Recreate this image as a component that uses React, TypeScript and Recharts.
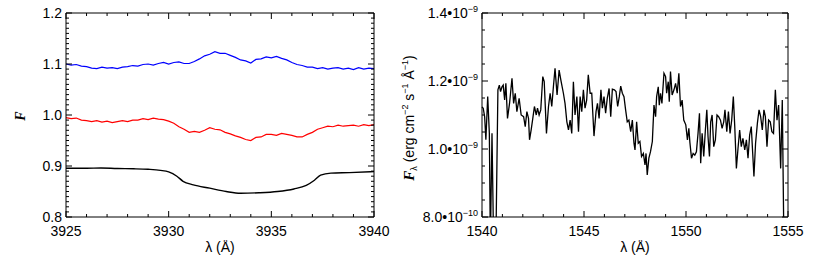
import React from 'react';
import { LineChart, Line, XAxis, YAxis } from 'recharts';

const SANS = '"Liberation Sans", Arial, Helvetica, sans-serif';
const SERIF = '"Liberation Serif", "Times New Roman", serif';

// ---- left panel: normalised flux around 3925-3940 A ----
const kWave = [
  3925, 3925.25, 3925.5, 3925.75, 3926, 3926.25, 3926.5, 3926.75, 3927, 3927.25, 3927.5, 3927.75,
  3928, 3928.25, 3928.5, 3928.75, 3929, 3929.25, 3929.5, 3929.75, 3930, 3930.25, 3930.5, 3930.75,
  3931, 3931.25, 3931.5, 3931.75, 3932, 3932.25, 3932.5, 3932.75, 3933, 3933.25, 3933.5, 3933.75,
  3934, 3934.25, 3934.5, 3934.75, 3935, 3935.25, 3935.5, 3935.75, 3936, 3936.25, 3936.5, 3936.75,
  3937, 3937.25, 3937.5, 3937.75, 3938, 3938.25, 3938.5, 3938.75, 3939, 3939.25, 3939.5, 3939.75, 3940,
];
const kBlue = [
  1.100, 1.098, 1.099, 1.096, 1.095, 1.092, 1.091, 1.094, 1.092, 1.093, 1.091, 1.094,
  1.095, 1.097, 1.096, 1.099, 1.100, 1.098, 1.101, 1.103, 1.100, 1.103, 1.104, 1.101,
  1.101, 1.105, 1.110, 1.116, 1.119, 1.124, 1.121, 1.121, 1.117, 1.113, 1.108, 1.106,
  1.102, 1.109, 1.110, 1.114, 1.112, 1.115, 1.111, 1.108, 1.103, 1.099, 1.097, 1.094,
  1.094, 1.091, 1.093, 1.090, 1.092, 1.093, 1.090, 1.092, 1.089, 1.093, 1.090, 1.092, 1.091,
];
const kRed = [
  0.995, 0.993, 0.994, 0.990, 0.989, 0.987, 0.989, 0.986, 0.988, 0.985, 0.987, 0.989,
  0.987, 0.990, 0.990, 0.993, 0.991, 0.994, 0.992, 0.991, 0.988, 0.984, 0.977, 0.972,
  0.966, 0.968, 0.966, 0.970, 0.975, 0.972, 0.971, 0.966, 0.963, 0.959, 0.956, 0.952,
  0.950, 0.956, 0.957, 0.962, 0.962, 0.960, 0.964, 0.962, 0.960, 0.957, 0.957, 0.962,
  0.966, 0.972, 0.975, 0.978, 0.977, 0.980, 0.978, 0.979, 0.980, 0.978, 0.981, 0.979, 0.981,
];
const modelWave = [
  3925, 3926, 3926.7, 3927.5, 3928.3, 3929, 3929.6, 3930, 3930.4, 3930.7, 3931.2, 3932,
  3932.8, 3933.5, 3934.4, 3935.3, 3936.1, 3936.7, 3937.1, 3937.4, 3937.9, 3938.8, 3940,
];
const modelFlux = [
  0.8955, 0.8955, 0.896, 0.895, 0.8945, 0.8935, 0.8915, 0.8885, 0.88, 0.87, 0.863, 0.8565,
  0.85, 0.8465, 0.8475, 0.85, 0.855, 0.862, 0.872, 0.882, 0.886, 0.887, 0.889,
];

const kMajorX = [3925, 3930, 3935, 3940];
const kTicksX = [3925, 3926, 3927, 3928, 3929, 3930, 3931, 3932, 3933, 3934, 3935, 3936, 3937, 3938, 3939, 3940];
const kMajorY = [0.8, 0.9, 1.0, 1.1, 1.2];
const kTicksY = [
  0.8, 0.81, 0.82, 0.83, 0.84, 0.85, 0.86, 0.87, 0.88, 0.89,
  0.9, 0.91, 0.92, 0.93, 0.94, 0.95, 0.96, 0.97, 0.98, 0.99,
  1.0, 1.01, 1.02, 1.03, 1.04, 1.05, 1.06, 1.07, 1.08, 1.09,
  1.1, 1.11, 1.12, 1.13, 1.14, 1.15, 1.16, 1.17, 1.18, 1.19, 1.2,
];
const kYLabels = ['0.8', '0.9', '1.0', '1.1', '1.2'];

// ---- right panel: flux (units of 1e-9 erg/cm2/s/A) around 1540-1555 A ----
const civWave = [
  1540.00, 1540.06, 1540.13, 1540.19, 1540.28, 1540.36, 1540.41, 1540.49, 1540.57, 1540.68,
  1540.78, 1540.85, 1540.91, 1540.98, 1541.04, 1541.11, 1541.17, 1541.25, 1541.35, 1541.47,
  1541.55, 1541.63, 1541.71, 1541.82, 1541.92, 1542.04, 1542.12, 1542.20, 1542.28, 1542.33,
  1542.41, 1542.49, 1542.57, 1542.66, 1542.72, 1542.80, 1542.88, 1542.98, 1543.05, 1543.16,
  1543.26, 1543.34, 1543.42, 1543.50, 1543.58, 1543.68, 1543.78, 1543.88, 1543.99, 1544.07,
  1544.16, 1544.24, 1544.32, 1544.40, 1544.48, 1544.56, 1544.65, 1544.73, 1544.81, 1544.89,
  1544.97, 1545.05, 1545.13, 1545.21, 1545.30, 1545.38, 1545.49, 1545.59, 1545.66, 1545.74,
  1545.83, 1545.90, 1545.98, 1546.06, 1546.14, 1546.23, 1546.31, 1546.39, 1546.49, 1546.57,
  1546.65, 1546.73, 1546.80, 1546.88, 1546.96, 1547.04, 1547.12, 1547.20, 1547.29, 1547.37,
  1547.45, 1547.50, 1547.58, 1547.66, 1547.74, 1547.82, 1547.91, 1547.99, 1548.04, 1548.10,
  1548.18, 1548.26, 1548.35, 1548.43, 1548.51, 1548.56, 1548.64, 1548.69, 1548.75, 1548.82,
  1548.92, 1549.00, 1549.05, 1549.13, 1549.18, 1549.24, 1549.32, 1549.41, 1549.49, 1549.57,
  1549.65, 1549.73, 1549.81, 1549.89, 1549.99, 1550.07, 1550.14, 1550.19, 1550.27, 1550.35,
  1550.43, 1550.51, 1550.59, 1550.66, 1550.72, 1550.79, 1550.87, 1550.95, 1551.02, 1551.08,
  1551.15, 1551.21, 1551.28, 1551.36, 1551.44, 1551.52, 1551.60, 1551.69, 1551.77, 1551.85,
  1551.91, 1552.00, 1552.08, 1552.16, 1552.24, 1552.32, 1552.39, 1552.47, 1552.55, 1552.63,
  1552.71, 1552.79, 1552.88, 1552.96, 1553.04, 1553.12, 1553.20, 1553.27, 1553.33, 1553.41,
  1553.50, 1553.58, 1553.66, 1553.74, 1553.82, 1553.89, 1553.97, 1554.05, 1554.13, 1554.21,
  1554.29, 1554.38, 1554.46, 1554.54, 1554.64, 1554.72, 1554.80, 1555.00,
];
const civFlux = [
  1.124, 1.120, 1.095, 1.027, 1.154, 1.046, 0.72, 1.046, 0.72, 0.72,
  1.174, 1.188, 1.169, 1.183, 1.188, 1.144, 1.193, 1.090, 1.134, 1.208,
  1.134, 1.164, 1.110, 1.149, 1.100, 1.095, 1.066, 1.110, 1.090, 1.027,
  1.056, 1.090, 1.125, 1.100, 1.120, 1.100, 1.115, 1.213, 1.198, 1.046,
  1.125, 1.164, 1.125, 1.183, 1.237, 1.159, 1.232, 1.198, 1.164, 1.134,
  1.080, 1.056, 1.085, 1.046, 1.198, 1.100, 1.154, 1.051, 1.154, 1.110,
  1.174, 1.120, 1.144, 1.218, 1.164, 1.164, 1.038, 1.110, 1.134, 1.090,
  1.174, 1.120, 1.154, 1.105, 1.149, 1.178, 1.095, 1.176, 1.174, 1.169,
  1.125, 1.154, 1.185, 1.164, 1.154, 1.115, 1.080, 1.085, 1.051, 1.085,
  1.017, 0.997, 1.080, 1.017, 1.022, 0.978, 0.987, 0.953, 0.987, 0.924,
  0.973, 0.992, 1.022, 1.129, 1.095, 1.154, 1.183, 1.129, 1.164, 1.134,
  1.223, 1.213, 1.164, 1.198, 1.139, 1.228, 1.159, 1.174, 1.193, 1.164,
  1.223, 1.125, 1.144, 1.085, 1.071, 1.027, 1.061, 1.020, 0.973, 0.987,
  0.982, 0.992, 1.046, 1.105, 0.958, 1.046, 0.978, 1.056, 1.115, 1.036,
  0.978, 1.080, 1.100, 1.007, 1.027, 1.100, 1.095, 1.085, 1.061, 1.080,
  1.115, 1.051, 1.110, 1.046, 1.085, 1.154, 1.066, 0.943, 1.002, 1.056,
  1.007, 1.031, 0.997, 1.027, 0.973, 1.041, 1.066, 0.987, 0.919, 1.017,
  1.076, 1.115, 1.095, 1.056, 1.115, 1.095, 1.007, 1.085, 1.080, 1.051,
  1.046, 1.174, 1.085, 1.129, 0.943, 1.144, 0.72, 0.72,
];

const cMajorX = [1540, 1545, 1550, 1555];
const cTicksX = [1540, 1541, 1542, 1543, 1544, 1545, 1546, 1547, 1548, 1549, 1550, 1551, 1552, 1553, 1554, 1555];
const cMajorY = [0.8, 1.0, 1.2, 1.4];
const cTicksY = [0.8, 0.85, 0.9, 0.95, 1.0, 1.05, 1.1, 1.15, 1.2, 1.25, 1.3, 1.35, 1.4];
const cYMantissa = ['8.0', '1.0', '1.2', '1.4'];
const cYExponent = ['\u221210', '\u22129', '\u22129', '\u22129'];

const zip = (xs: number[], ys: number[]) => xs.map((w, i) => ({ w, f: ys[i] }));
const blueData = zip(kWave, kBlue);
const redData = zip(kWave, kRed);
const modelData = zip(modelWave, modelFlux);
const civData = zip(civWave, civFlux);

const findMajor = (v: number, maj: number[]) => maj.findIndex((m) => Math.abs(m - v) < 1e-6);

// chart sizes / margins (the plot box follows from these)
const K = { w: 400, h: 276, top: 12, right: 25, bottom: 19, left: 16, yw: 50, xh: 40 };
const C = { w: 430, h: 276, top: 12, right: 41, bottom: 19, left: 22, yw: 60, xh: 40 };

// inward IDL-style tick marks on all four sides of a plot box
const TickBox = ({ g, xd, yd, xt, yt, xMaj, yMaj }: any) => {
  const x0 = g.left + g.yw;
  const x1 = g.w - g.right - 1;
  const y0 = g.top + 1;
  const y1 = g.h - g.bottom - g.xh;
  const sx = (v: number) => x0 + ((v - xd[0]) / (xd[1] - xd[0])) * (x1 - x0);
  const sy = (v: number) => y1 - ((v - yd[0]) / (yd[1] - yd[0])) * (y1 - y0);
  const marks: React.ReactNode[] = [];
  xt.forEach((v: number, i: number) => {
    const len = findMajor(v, xMaj) >= 0 ? 6 : 3;
    const x = sx(v);
    marks.push(<line key={`b${i}`} x1={x} x2={x} y1={y1} y2={y1 - len} />);
    marks.push(<line key={`t${i}`} x1={x} x2={x} y1={y0} y2={y0 + len} />);
  });
  yt.forEach((v: number, i: number) => {
    const len = findMajor(v, yMaj) >= 0 ? 6 : 3;
    const y = sy(v);
    marks.push(<line key={`l${i}`} x1={x0} x2={x0 + len} y1={y} y2={y} />);
    marks.push(<line key={`r${i}`} x1={x1} x2={x1 - len} y1={y} y2={y} />);
  });
  return (
    <svg width={g.w} height={g.h} style={{ position: 'absolute', left: 0, top: 0, pointerEvents: 'none' }}>
      <g stroke="#000" strokeWidth={1}>{marks}</g>
    </svg>
  );
};

const xLabel = (maj: number[]) => (props: any) => {
  const i = findMajor(props.payload.value, maj);
  if (i < 0) return <g />;
  return (
    <text x={Number(props.x)} y={Number(props.y) + 19} textAnchor="middle" fontFamily={SANS} fontSize={14} fill="#000">
      {maj[i]}
    </text>
  );
};

const kYLabel = (props: any) => {
  const i = findMajor(props.payload.value, kMajorY);
  if (i < 0) return <g />;
  return (
    <text x={Number(props.x) - 4} y={Number(props.y) + 5} textAnchor="end" fontFamily={SANS} fontSize={14} fill="#000">
      {kYLabels[i]}
    </text>
  );
};

const cYLabel = (props: any) => {
  const i = findMajor(props.payload.value, cMajorY);
  if (i < 0) return <g />;
  return (
    <text x={Number(props.x) - 4} y={Number(props.y) + 5} textAnchor="end" fontFamily={SANS} fontSize={14} fill="#000">
      <tspan>{cYMantissa[i]}{'\u202210'}</tspan>
      <tspan dy={-6} fontSize={9}>{cYExponent[i]}</tspan>
    </text>
  );
};

const box = { stroke: '#000' };

const LeftPanel = () => (
  <LineChart width={K.w} height={K.h} margin={{ top: K.top, right: K.right, bottom: K.bottom, left: K.left }}>
    <XAxis xAxisId="b" type="number" dataKey="w" domain={[3925, 3940]} ticks={kTicksX} interval={0}
      tickSize={0} tickMargin={0} tickLine={false} axisLine={box} height={K.xh} tick={xLabel(kMajorX)} />
    <XAxis xAxisId="t" orientation="top" type="number" dataKey="w" domain={[3925, 3940]}
      tickLine={false} axisLine={box} height={1} tick={false} />
    <YAxis yAxisId="l" type="number" domain={[0.8, 1.2]} ticks={kTicksY} interval={0}
      tickSize={0} tickMargin={0} tickLine={false} axisLine={box} width={K.yw} tick={kYLabel} />
    <YAxis yAxisId="r" orientation="right" type="number" domain={[0.8, 1.2]}
      tickLine={false} axisLine={box} width={1} tick={false} />
    {/* invisible series so the mirrored top/right axes get drawn */}
    <Line xAxisId="t" yAxisId="r" data={modelData} dataKey="f" stroke="none" dot={false} isAnimationActive={false} />
    <Line xAxisId="b" yAxisId="l" data={blueData} dataKey="f" type="linear" stroke="#0000ff"
      strokeWidth={1.2} dot={false} isAnimationActive={false} />
    <Line xAxisId="b" yAxisId="l" data={redData} dataKey="f" type="linear" stroke="#ff0000"
      strokeWidth={1.2} dot={false} isAnimationActive={false} />
    <Line xAxisId="b" yAxisId="l" data={modelData} dataKey="f" type="monotone" stroke="#000"
      strokeWidth={1.4} dot={false} isAnimationActive={false} />
  </LineChart>
);

const RightPanel = () => (
  <LineChart width={C.w} height={C.h} margin={{ top: C.top, right: C.right, bottom: C.bottom, left: C.left }}>
    <XAxis xAxisId="b" type="number" dataKey="w" domain={[1540, 1555]} ticks={cTicksX} interval={0}
      tickSize={0} tickMargin={0} tickLine={false} axisLine={box} height={C.xh} tick={xLabel(cMajorX)} />
    <XAxis xAxisId="t" orientation="top" type="number" dataKey="w" domain={[1540, 1555]}
      tickLine={false} axisLine={box} height={1} tick={false} />
    <YAxis yAxisId="l" type="number" domain={[0.8, 1.4]} ticks={cTicksY} interval={0} allowDataOverflow
      tickSize={0} tickMargin={0} tickLine={false} axisLine={box} width={C.yw} tick={cYLabel} />
    <YAxis yAxisId="r" orientation="right" type="number" domain={[0.8, 1.4]} allowDataOverflow
      tickLine={false} axisLine={box} width={1} tick={false} />
    <Line xAxisId="t" yAxisId="r" data={civData} dataKey="f" stroke="none" dot={false} isAnimationActive={false} />
    <Line xAxisId="b" yAxisId="l" data={civData} dataKey="f" type="linear" stroke="#000"
      strokeWidth={1.3} dot={false} isAnimationActive={false} />
  </LineChart>
);

const txt = { fontFamily: SANS, fontSize: 14, fill: '#000' };

export default function App() {
  return (
    <div style={{ position: 'absolute', left: 0, top: 0, width: 830, height: 276 }}>
      <div style={{ position: 'absolute', left: 0, top: 0, width: K.w, height: K.h }}>
        <LeftPanel />
        <TickBox g={K} xd={[3925, 3940]} yd={[0.8, 1.2]} xt={kTicksX} yt={kTicksY} xMaj={kMajorX} yMaj={kMajorY} />
      </div>
      <div style={{ position: 'absolute', left: 400, top: 0, width: C.w, height: C.h }}>
        <RightPanel />
        <TickBox g={C} xd={[1540, 1555]} yd={[0.8, 1.4]} xt={cTicksX} yt={cTicksY} xMaj={cMajorX} yMaj={cMajorY} />
      </div>
      {/* axis titles, kept outside the plot boxes */}
      <svg width={40} height={276} style={{ position: 'absolute', left: 0, top: 0 }}>
        <text transform="translate(25,116) rotate(-90)" textAnchor="middle" fontFamily={SERIF}
          fontStyle="italic" fontWeight="bold" fontSize={14} fill="#000">F</text>
      </svg>
      <svg width={830} height={36} style={{ position: 'absolute', left: 0, top: 240 }}>
        <text x={220} y={12} textAnchor="middle" {...txt}>λ (Å)</text>
        <text x={635} y={12} textAnchor="middle" {...txt}>λ (Å)</text>
      </svg>
      <svg width={24} height={276} style={{ position: 'absolute', left: 396, top: 0 }}>
        <text transform="translate(18,118) rotate(-90)" textAnchor="middle" {...txt}>
          <tspan fontFamily={SERIF} fontStyle="italic" fontWeight="bold" fontSize={15}>F</tspan>
          <tspan fontSize={9} dy={3}>λ</tspan>
          <tspan dy={-3}> (erg cm</tspan>
          <tspan fontSize={9} dy={-6}>{'\u22122'}</tspan>
          <tspan dy={6}> s</tspan>
          <tspan fontSize={9} dy={-6}>{'\u22121'}</tspan>
          <tspan dy={6}> Å</tspan>
          <tspan fontSize={9} dy={-6}>{'\u22121'}</tspan>
          <tspan dy={6}>)</tspan>
        </text>
      </svg>
    </div>
  );
}
